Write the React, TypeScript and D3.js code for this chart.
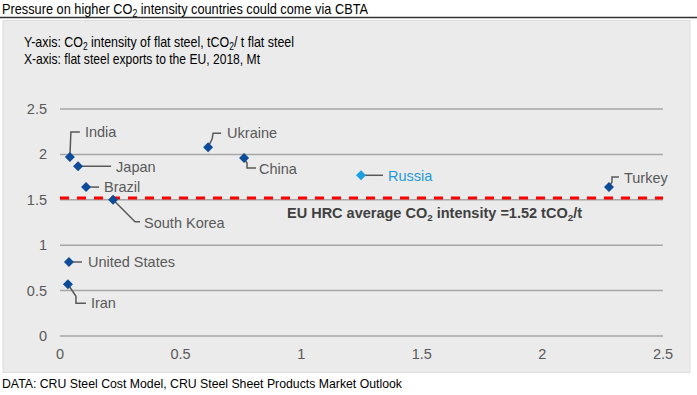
import React, { useEffect } from 'react';
import * as d3 from 'd3';

const countries = ['India', 'Japan', 'Brazil', 'South Korea', 'United States', 'Iran', 'Ukraine', 'China', 'Russia', 'Turkey'];
const exportsMt = [0.041, 0.075, 0.108, 0.22, 0.037, 0.033, 0.614, 0.763, 1.248, 2.276];
const co2Intensity = [1.97, 1.87, 1.64, 1.5, 0.815, 0.57, 2.08, 1.96, 1.77, 1.64];
const highlighted = ['Russia'];
const xTicks = [0, 0.5, 1, 1.5, 2, 2.5];
const yTicks = [0, 0.5, 1, 1.5, 2, 2.5];
const euAverage = 1.52;

// leader lines & label offsets (px, relative to the marker)
const labelLayout: Record<string, { leader: [number, number][]; dx: number; dy: number }> = {
  'India': { leader: [[0, 0], [1, -25], [10, -25]], dx: 15, dy: -25 },
  'Japan': { leader: [[0, 0], [33, 0]], dx: 38, dy: 1 },
  'Brazil': { leader: [[0, 0], [13, 0]], dx: 18, dy: 0 },
  'South Korea': { leader: [[0, 0], [22, 22], [27, 22]], dx: 31, dy: 23 },
  'United States': { leader: [[0, 0], [13, 0]], dx: 19, dy: 0 },
  'Iran': { leader: [[0, 0], [8, 12], [8, 19], [18, 19]], dx: 23, dy: 19 },
  'Ukraine': { leader: [[0, 0], [4, -8], [5, -14], [13, -14]], dx: 19, dy: -14 },
  'China': { leader: [[0, 0], [3, 5], [3, 10], [12, 10]], dx: 15, dy: 11 },
  'Russia': { leader: [[0, 0], [22, 0]], dx: 27, dy: 1 },
  'Turkey': { leader: [[0, 0], [3, -5], [3, -10], [10, -10]], dx: 15, dy: -9 },
};

const W = 697;
const H = 395;
const plot = { left: 60, right: 663, top: 109, bottom: 336 };
const narrow = "'Liberation Sans Narrow', 'Arial Narrow', 'Liberation Sans', Arial, sans-serif";
const sans = "'Liberation Sans', Arial, sans-serif";

const Sub = ({ children }: { children: string }) => (
  <tspan fontSize="0.68em" baselineShift="-25%">{children}</tspan>
);

export default function App() {
  useEffect(() => {
    document.body.style.margin = '0';
  }, []);

  const x = d3.scaleLinear().domain([0, 2.5]).range([plot.left, plot.right]);
  const y = d3.scaleLinear().domain([0, 2.5]).range([plot.bottom, plot.top]);
  const marker = d3.symbol().type(d3.symbolSquare).size(50)();
  const line = d3.line();

  const points = countries.map((c, i) => ({
    name: c,
    px: x(exportsMt[i]),
    py: y(co2Intensity[i]),
    hi: highlighted.includes(c),
  }));

  return (
    <svg width={W} height={H} style={{ display: 'block' }}>
      <rect x={0} y={0} width={W} height={H} fill="#ffffff" />
      <text x={2} y={14} fontFamily={narrow} fontSize={15} fill="#000" textLength={366} lengthAdjust="spacingAndGlyphs">
        Pressure on higher CO<Sub>2</Sub> intensity countries could come via CBTA
      </text>
      <line x1={0} x2={W} y1={17.5} y2={17.5} stroke="#333" strokeWidth={1.5} />
      <rect x={3} y={20.5} width={687} height={352} fill="#ebebeb" stroke="#dedede" strokeWidth={1} />

      <text x={24} y={47} fontFamily={narrow} fontSize={15} fill="#000" textLength={270} lengthAdjust="spacingAndGlyphs">
        Y-axis: CO<Sub>2</Sub> intensity of flat steel, tCO<Sub>2</Sub>/ t flat steel
      </text>
      <text x={24} y={64} fontFamily={narrow} fontSize={15} fill="#000" textLength={236} lengthAdjust="spacingAndGlyphs">
        X-axis: flat steel exports to the EU, 2018, Mt
      </text>

      {yTicks.map((t) => (
        <g key={'y' + t}>
          <line x1={plot.left} x2={plot.right} y1={y(t)} y2={y(t)} stroke="#a6a6a6" strokeWidth={1.5} />
          <text x={47} y={y(t)} dy="0.35em" textAnchor="end" fontFamily={sans} fontSize={14.5} fill="#595959">
            {t}
          </text>
        </g>
      ))}
      {xTicks.map((t) => (
        <text key={'x' + t} x={x(t)} y={plot.bottom + 18} dy="0.35em" textAnchor="middle" fontFamily={sans} fontSize={14.5} fill="#595959">
          {t}
        </text>
      ))}

      <line x1={plot.left} x2={plot.right} y1={y(euAverage)} y2={y(euAverage)} stroke="#ff0000" strokeWidth={3} strokeDasharray="9,8" />
      <text x={287} y={y(euAverage) + 20} fontFamily={sans} fontWeight="bold" fontSize={14.5} fill="#404040">
        EU HRC average CO<Sub>2</Sub> intensity ={euAverage} tCO<Sub>2</Sub>/t
      </text>

      {points.map((p) => {
        const lay = labelLayout[p.name];
        const d = line(lay.leader.map(([dx, dy]) => [p.px + dx, p.py + dy] as [number, number])) || '';
        return (
          <g key={p.name}>
            <path d={d} fill="none" stroke="#595959" strokeWidth={1.5} />
            <path d={marker} transform={`translate(${p.px},${p.py}) rotate(45)`} fill={p.hi ? '#1ba1e2' : '#0f4c97'} />
            <text x={p.px + lay.dx} y={p.py + lay.dy} dy="0.35em" fontFamily={sans} fontSize={14.5} fill={p.hi ? '#1f9ad8' : '#595959'}>
              {p.name}
            </text>
          </g>
        );
      })}

      <text x={2} y={388} fontFamily={narrow} fontSize={13} fill="#000" textLength={400} lengthAdjust="spacingAndGlyphs">
        DATA: CRU Steel Cost Model, CRU Steel Sheet Products Market Outlook
      </text>
    </svg>
  );
}
